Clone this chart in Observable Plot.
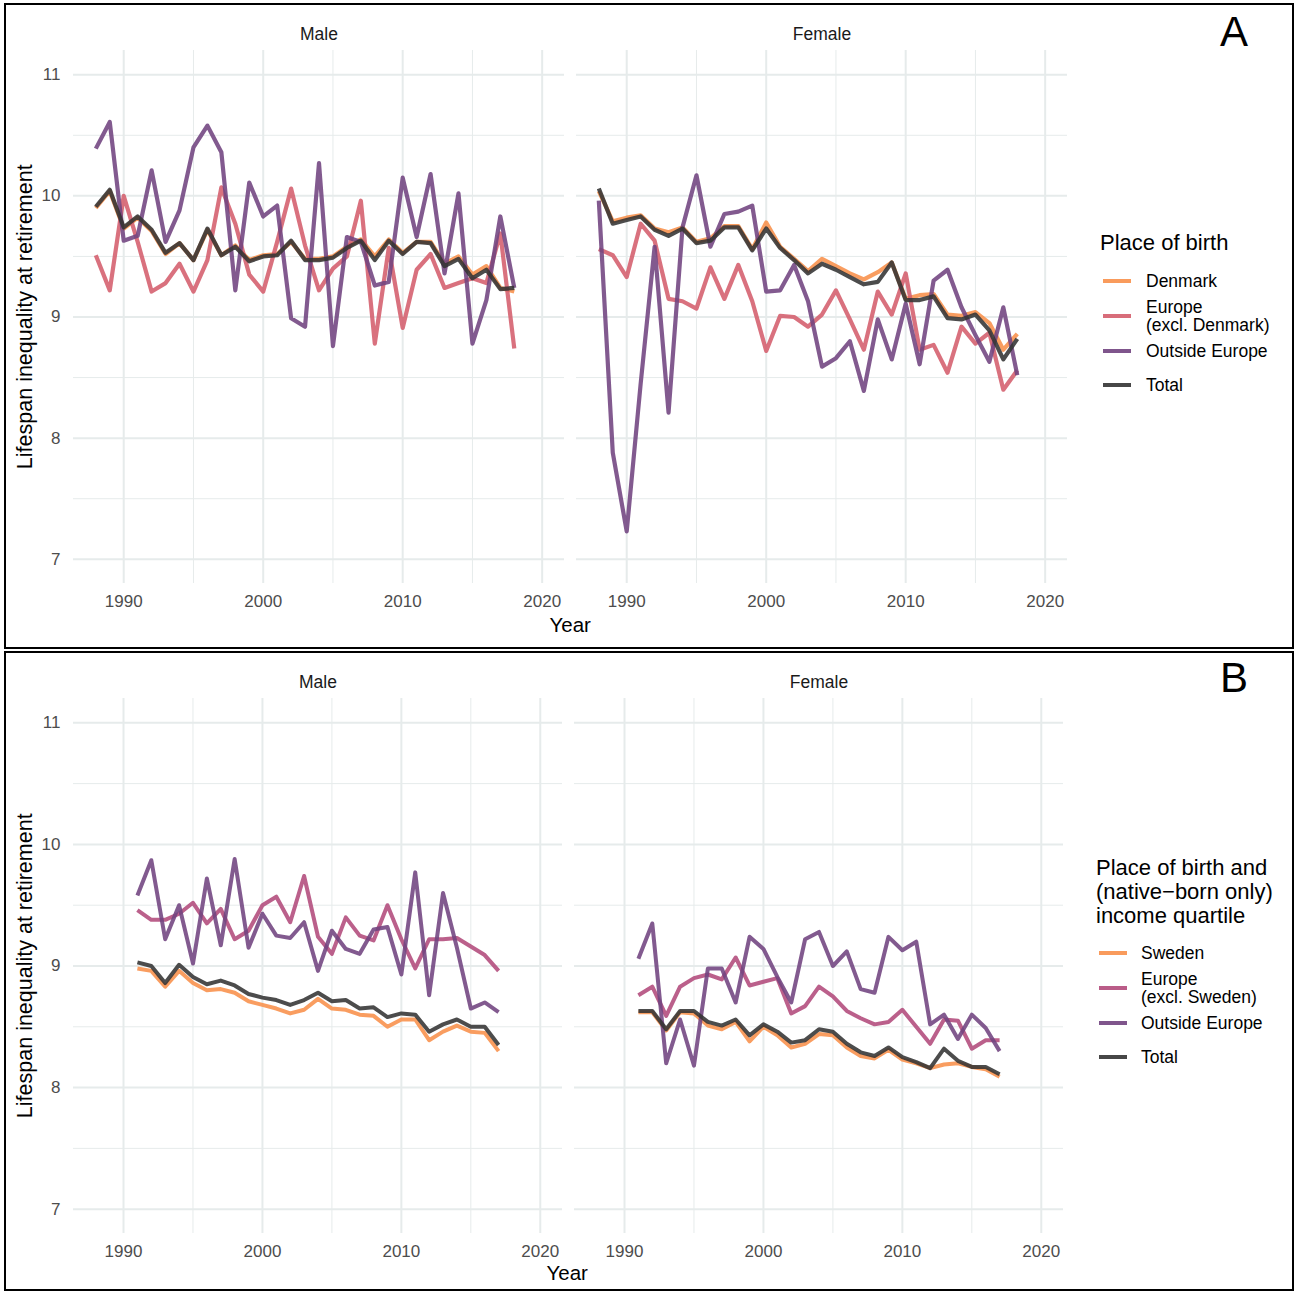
<!DOCTYPE html>
<html><head><meta charset="utf-8">
<script src="https://cdn.jsdelivr.net/npm/d3@7"></script>
<script src="https://cdn.jsdelivr.net/npm/@observablehq/plot@0.6"></script>
<style>
body{margin:0;background:#fff;font-family:"Liberation Sans",Arial,Helvetica,sans-serif;}
#page{position:relative;width:1297px;height:1292px;overflow:hidden;}
.box{position:absolute;border:2px solid #000;box-sizing:border-box;pointer-events:none;}
.abs{position:absolute;white-space:nowrap;color:#000;line-height:1;}
.plot{position:absolute;left:0;}
</style>
</head><body>
<div id="page"></div>
<script>
// ---------- DATA ----------
const sexes = ["Male", "Female"];
const yearsA = [1988,1989,1990,1991,1992,1993,1994,1995,1996,1997,1998,1999,2000,2001,2002,2003,2004,2005,2006,2007,2008,2009,2010,2011,2012,2013,2014,2015,2016,2017,2018];
const yearsB = [1991,1992,1993,1994,1995,1996,1997,1998,1999,2000,2001,2002,2003,2004,2005,2006,2007,2008,2009,2010,2011,2012,2013,2014,2015,2016,2017];
const groupsA = ["Denmark", "Europe\n(excl. Denmark)", "Outside Europe", "Total"];
const groupsB = ["Sweden", "Europe\n(excl. Sweden)", "Outside Europe", "Total"];
const legendTitleA = "Place of birth";
const legendTitleB = "Place of birth and\n(native\u2212born only)\nincome quartile";
const yTicks = [7, 8, 9, 10, 11];
const xTicks = [1990, 2000, 2010, 2020];

// Panel A (Denmark), Male
const aMaleDenmark = [9.90,10.04,9.73,9.82,9.71,9.52,9.61,9.47,9.72,9.51,9.59,9.47,9.51,9.52,9.62,9.48,9.48,9.50,9.58,9.64,9.50,9.64,9.53,9.62,9.62,9.44,9.50,9.35,9.42,9.24,9.21];
const aMaleEurope  = [9.51,9.22,10.00,9.62,9.21,9.28,9.44,9.21,9.47,10.07,9.77,9.35,9.21,9.62,10.06,9.59,9.22,9.40,9.50,9.96,8.78,9.57,8.91,9.39,9.52,9.24,9.28,9.32,9.28,9.69,8.74];
const aMaleOutside = [10.39,10.61,9.63,9.67,10.21,9.62,9.88,10.40,10.58,10.36,9.22,10.11,9.83,9.92,8.99,8.92,10.27,8.76,9.66,9.62,9.26,9.29,10.15,9.66,10.18,9.36,10.02,8.78,9.14,9.83,9.24];
const aMaleTotal   = [9.91,10.05,9.74,9.83,9.72,9.53,9.61,9.47,9.73,9.51,9.58,9.46,9.50,9.51,9.63,9.47,9.47,9.49,9.57,9.63,9.47,9.63,9.52,9.62,9.61,9.42,9.48,9.32,9.39,9.23,9.24];
// Panel A (Denmark), Female
const aFemaleDenmark = [10.04,9.79,9.82,9.84,9.73,9.70,9.74,9.62,9.65,9.75,9.75,9.56,9.78,9.58,9.48,9.38,9.48,9.42,9.36,9.31,9.37,9.45,9.15,9.18,9.19,9.02,9.01,9.04,8.95,8.73,8.86];
const aFemaleEurope  = [9.56,9.51,9.33,9.77,9.63,9.15,9.13,9.07,9.41,9.15,9.43,9.13,8.72,9.01,9.00,8.92,9.02,9.22,8.98,8.73,9.21,9.02,9.36,8.73,8.77,8.54,8.92,8.78,8.87,8.40,8.56];
const aFemaleOutside = [9.96,7.88,7.23,8.45,9.58,8.21,9.74,10.17,9.58,9.85,9.87,9.92,9.21,9.22,9.43,9.13,8.59,8.66,8.80,8.39,8.98,8.65,9.11,8.61,9.30,9.39,9.08,8.85,8.63,9.08,8.52];
const aFemaleTotal   = [10.06,9.77,9.80,9.83,9.72,9.67,9.73,9.61,9.63,9.74,9.74,9.55,9.73,9.57,9.47,9.36,9.44,9.39,9.33,9.27,9.29,9.45,9.14,9.14,9.17,8.99,8.98,9.02,8.89,8.65,8.82];
// Panel B (Sweden), Male
const bMaleSweden  = [8.98,8.96,8.83,8.96,8.86,8.80,8.81,8.78,8.71,8.68,8.65,8.61,8.64,8.73,8.65,8.64,8.60,8.59,8.50,8.56,8.56,8.39,8.46,8.51,8.46,8.45,8.30];
const bMaleEurope  = [9.46,9.38,9.38,9.43,9.52,9.35,9.47,9.22,9.29,9.50,9.57,9.36,9.74,9.24,9.10,9.40,9.25,9.21,9.50,9.22,8.98,9.22,9.22,9.23,9.16,9.09,8.96];
const bMaleOutside = [9.58,9.87,9.22,9.50,9.02,9.72,9.17,9.88,9.15,9.43,9.25,9.23,9.36,8.96,9.29,9.14,9.10,9.30,9.32,8.93,9.77,8.76,9.60,9.15,8.65,8.70,8.62];
const bMaleTotal   = [9.03,9.00,8.86,9.01,8.91,8.85,8.88,8.84,8.77,8.74,8.72,8.68,8.72,8.78,8.71,8.72,8.65,8.66,8.58,8.61,8.60,8.46,8.52,8.56,8.50,8.50,8.35];
// Panel B (Sweden), Female
const bFemaleSweden  = [8.62,8.62,8.47,8.62,8.61,8.51,8.48,8.54,8.38,8.50,8.43,8.33,8.36,8.44,8.43,8.33,8.26,8.24,8.31,8.23,8.20,8.16,8.19,8.20,8.17,8.15,8.09];
const bFemaleEurope  = [8.76,8.83,8.59,8.83,8.90,8.93,8.89,9.07,8.84,8.87,8.90,8.61,8.67,8.83,8.75,8.63,8.57,8.52,8.54,8.64,8.50,8.36,8.56,8.55,8.32,8.39,8.39];
const bFemaleOutside = [9.06,9.35,8.20,8.56,8.18,8.98,8.98,8.70,9.24,9.14,8.91,8.70,9.22,9.28,9.00,9.12,8.81,8.78,9.24,9.13,9.20,8.52,8.60,8.40,8.60,8.49,8.30];
const bFemaleTotal   = [8.63,8.63,8.48,8.63,8.63,8.54,8.51,8.56,8.43,8.52,8.46,8.37,8.39,8.48,8.46,8.36,8.29,8.26,8.33,8.25,8.21,8.16,8.32,8.22,8.17,8.17,8.11];

// ---------- STYLE ----------
const colorsA = ["#F8904A", "#D45D6C", "#714380", "#333333"];
const colorsB = ["#F8904A", "#B24A7B", "#714380", "#333333"];
const gridColor = "#E6EBEB";
const font = '"Liberation Sans", Arial, Helvetica, sans-serif';

function rowsFor(years, groups, bySex) {
  const rows = [];
  groups.forEach((g, gi) => {
    sexes.forEach(s => {
      bySex[s][gi].forEach((v, i) => rows.push({sex: s, year: years[i], group: g, value: v}));
    });
  });
  return rows;
}
const rowsA = rowsFor(yearsA, groupsA, {
  Male: [aMaleDenmark, aMaleEurope, aMaleOutside, aMaleTotal],
  Female: [aFemaleDenmark, aFemaleEurope, aFemaleOutside, aFemaleTotal]
});
const rowsB = rowsFor(yearsB, groupsB, {
  Male: [bMaleSweden, bMaleEurope, bMaleOutside, bMaleTotal],
  Female: [bFemaleSweden, bFemaleEurope, bFemaleOutside, bFemaleTotal]
});

function panel(rows, groups, colors, cfg) {
  const step = (cfg.right - cfg.left + cfg.gap) / 2;
  return Plot.plot({
    width: cfg.width, height: cfg.height,
    marginLeft: cfg.left, marginRight: cfg.width - cfg.right,
    marginTop: cfg.top, marginBottom: cfg.bottom,
    style: {fontFamily: font, color: "#4d4d4d", background: "transparent", overflow: "visible"},
    fx: {domain: sexes, paddingInner: cfg.gap / step, paddingOuter: 0, axis: null},
    x: {domain: [1986.4, 2021.6]},
    y: {domain: [6.8, 11.2]},
    color: {domain: groups, range: colors},
    marks: [
      Plot.gridX([1995, 2005, 2015], {stroke: gridColor, strokeOpacity: 1, strokeWidth: 1}),
      Plot.gridY([7.5, 8.5, 9.5, 10.5], {stroke: gridColor, strokeOpacity: 1, strokeWidth: 1}),
      Plot.gridX(xTicks, {stroke: gridColor, strokeOpacity: 1, strokeWidth: 2}),
      Plot.gridY(yTicks, {stroke: gridColor, strokeOpacity: 1, strokeWidth: 2}),
      Plot.axisX(xTicks, {tickSize: 0, tickPadding: 11, fontSize: 17, tickFormat: d => String(d), label: null}),
      Plot.axisY(yTicks, {tickSize: 0, tickPadding: 13, fontSize: 17, tickFormat: d => String(d), label: null}),
      Plot.text(sexes, {fx: d => d, text: d => d, frameAnchor: "top", dy: -23, fontSize: 17.5, fill: "#1a1a1a"}),
      Plot.line(rows, {fx: "sex", x: "year", y: "value", z: "group", stroke: "group",
        strokeWidth: cfg.lw, strokeOpacity: 0.88, strokeLinejoin: "round", strokeLinecap: "butt"})
    ]
  });
}

const page = document.getElementById("page");
function addText(txt, x, y, size, opts = {}) {
  const d = document.createElement("div");
  d.className = "abs";
  d.textContent = txt;
  d.style.fontSize = size + "px";
  d.style.left = x + "px";
  d.style.top = y + "px";
  if (opts.lh) { d.style.lineHeight = opts.lh + "px"; d.style.whiteSpace = "pre"; }
  if (opts.color) d.style.color = opts.color;
  page.appendChild(d);
  return d;
}
function addBox(l, t, w, h) {
  const b = document.createElement("div");
  b.className = "box";
  Object.assign(b.style, {left: l + "px", top: t + "px", width: w + "px", height: h + "px"});
  page.appendChild(b);
}
function addKey(x, y, color) {
  const k = document.createElement("div");
  Object.assign(k.style, {position: "absolute", left: x + "px", top: (y - 2) + "px", width: "28px", height: "4px", background: color, opacity: 0.9});
  page.appendChild(k);
}

// Panel A
const pA = panel(rowsA, groupsA, colorsA, {width: 1080, height: 648, left: 73, right: 1067, gap: 12, top: 50, bottom: 65, lw: 4.2});
pA.classList.add("plot"); pA.style.top = "0px";
page.appendChild(pA);
// Panel B
const pB = panel(rowsB, groupsB, colorsB, {width: 1080, height: 640, left: 73, right: 1063, gap: 12, top: 48, bottom: 57, lw: 4.0});
pB.classList.add("plot"); pB.style.top = "650px";
page.appendChild(pB);

addBox(4, 3, 1290, 646);
addBox(4, 651, 1290, 640);

function centered(txt, cx, cy, size, rotate) {
  const d = addText(txt, 0, 0, size);
  const w = d.offsetWidth, h = d.offsetHeight;
  d.style.left = (cx - w / 2) + "px";
  d.style.top = (cy - h / 2) + "px";
  if (rotate) d.style.transform = "rotate(-90deg)";
  return d;
}
centered("Year", 570, 625, 20.5);
centered("Year", 567, 1273, 20.5);
centered("Lifespan inequality at retirement", 25, 317, 21.5, true);
centered("Lifespan inequality at retirement", 25, 966, 21.5, true);
centered("A", 1234, 32, 42);
centered("B", 1234, 678, 42);

// Legend A
addText(legendTitleA, 1100, 231, 22, {lh: 24});
const keyYA = [281, 316, 351, 385];
groupsA.forEach((g, i) => {
  addKey(1103, keyYA[i], colorsA[i]);
  const lines = g.split("\n");
  addText(g, 1146, keyYA[i] - lines.length * 9, 17.5, {lh: 18});
});
// Legend B
addText(legendTitleB, 1096, 856, 22, {lh: 24});
const keyYB = [953, 988, 1023, 1057];
groupsB.forEach((g, i) => {
  addKey(1099, keyYB[i], colorsB[i]);
  const lines = g.split("\n");
  addText(g, 1141, keyYB[i] - lines.length * 9, 17.5, {lh: 18});
});
</script>
</body></html>
